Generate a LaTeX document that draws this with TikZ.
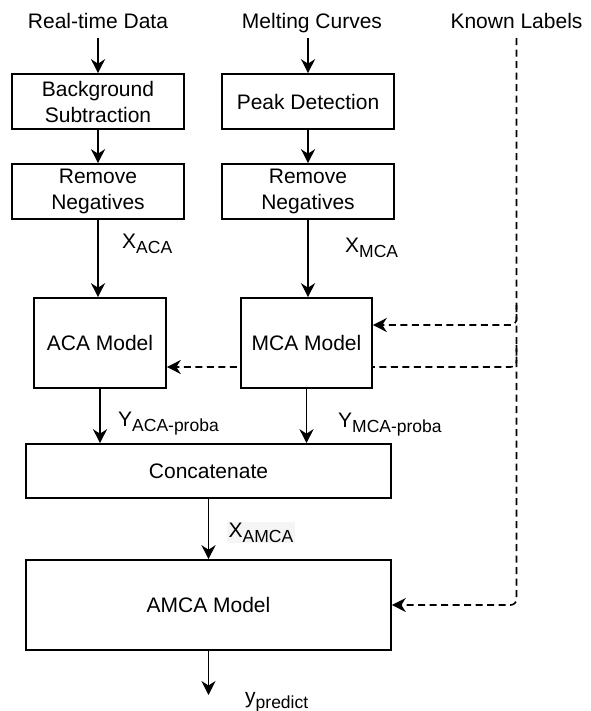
\documentclass[tikz,border=0pt]{standalone}
\usepackage{fontspec}
\setmainfont{Liberation Sans}
\usetikzlibrary{arrows.meta,backgrounds}
% lowered, smaller text for index labels
\newcommand{\lowsub}[1]{\raisebox{-5pt}{\fontsize{17.5}{18}\selectfont #1}}

\begin{document}
\begin{tikzpicture}[x=1pt,y=-1pt,
  font=\fontsize{21}{26}\selectfont,
  flow/.style={line width=1.6pt,-{Stealth[length=14pt,width=14pt,inset=4.5pt]}},
  feed/.style={flow,dash pattern=on 7pt off 4.5pt,rounded corners=6pt},
  stage/.style={draw,line width=1.6pt,fill=white,align=center,inner sep=0pt},
  src/.style={inner xsep=0pt,inner ysep=4pt,text height=15pt,text depth=5pt,anchor=base},
  tag/.style={inner sep=0pt,anchor=base west}]
\useasboundingbox (0,0) rectangle (590,711);

% inputs
\node[src] (rt) at (98,29) {Real-time Data};
\node[src] (mc) at (312,29) {Melting Curves};
\node[src] (kl) at (516.5,29) {Known Labels};

% preprocessing
\node[stage,minimum width=172pt,minimum height=55pt] (bs) at (98,101.5) {Background\\Subtraction};
\node[stage,minimum width=172pt,minimum height=55pt] (pd) at (308,101.5) {Peak Detection};
\node[stage,minimum width=172pt,minimum height=55pt] (rn1) at (98,191.5) {Remove\\Negatives};
\node[stage,minimum width=172pt,minimum height=55pt] (rn2) at (308,191.5) {Remove\\Negatives};

% models
\node[stage,minimum width=132pt,minimum height=90pt] (aca) at (100,343) {ACA Model};
\node[stage,minimum width=131pt,minimum height=90pt] (mca) at (306.5,343) {MCA Model};
\node[stage,minimum width=365pt,minimum height=54pt] (cat) at (208.5,471) {Concatenate};
\node[stage,minimum width=365pt,minimum height=90pt] (amca) at (208.5,605) {AMCA Model};
\coordinate (out) at (208.5,695);

% solid data flow
\draw[flow] (rt.south) -- (bs.north);
\draw[flow] (mc.south -| pd.north) -- (pd.north);
\draw[flow] (bs) -- (rn1);
\draw[flow] (pd) -- (rn2);
\draw[flow] (rn1.south) -- (rn1.south |- aca.north);
\draw[flow] (rn2.south) -- (rn2.south |- mca.north);
\draw[flow] (aca.south) -- (aca.south |- cat.north);
\draw[flow] (mca.south) -- (mca.south |- cat.north);
\draw[flow] (cat) -- (amca);
\draw[flow] (amca.south) -- (out);

% edge labels
\node[tag] (xaca) at (122,248) {X\lowsub{ACA}};
\node[tag] (xmca) at (345,252) {X\lowsub{MCA}};
\node[tag] (yaca) at (118,426) {Y\lowsub{ACA-proba}};
\node[tag] (ymca) at (338,427) {Y\lowsub{MCA-proba}};
\node[tag,fill=black!4,inner xsep=1.5pt,inner ysep=1pt] (xamca) at (227,537) {X\lowsub{AMCA}};
\node[tag] (ypred) at (245,703) {y\lowsub{predict}};

% label feedback (dashed), behind the boxes
\coordinate (tap1) at (516.5,305);
\coordinate (tap2) at (516.5,345);
\begin{pgfonlayer}{background}
\draw[feed] (kl.south) |- (amca.east);
\draw[feed] (tap1) |- ([yshift=18pt]mca.east);
\draw[feed] (tap2) |- ([yshift=-24pt]aca.east);
\end{pgfonlayer}
\end{tikzpicture}
\end{document}
